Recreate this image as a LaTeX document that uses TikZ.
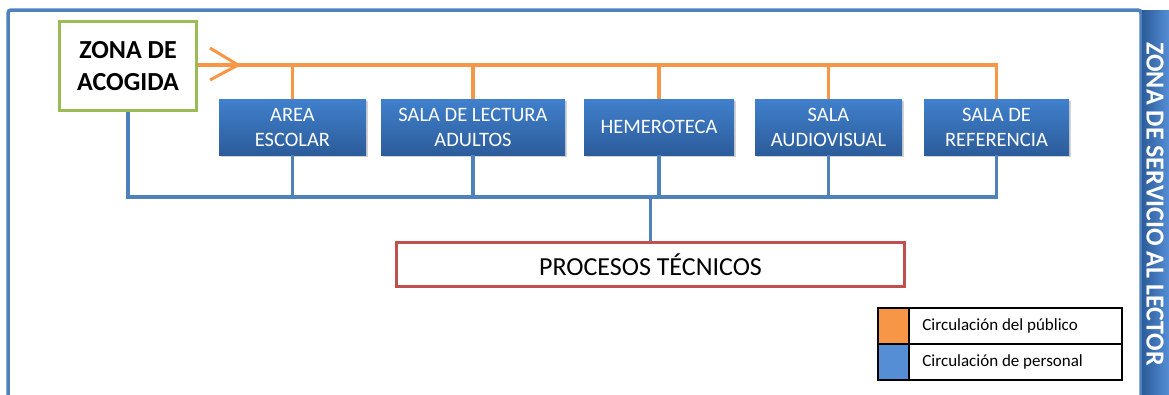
\documentclass[tikz,border=0pt]{standalone}
\usepackage{fontspec}
\setmainfont{Carlito}
\usetikzlibrary{shadows}
\definecolor{orng}{HTML}{F79646}
\definecolor{lblue}{HTML}{4F81BD}
\definecolor{gbox}{HTML}{9BBB59}
\definecolor{rbox}{HTML}{C0504D}
\definecolor{btop}{HTML}{4080CD}
\definecolor{bbot}{HTML}{2C5C9A}
\definecolor{lgblue}{HTML}{558ED5}
\tikzset{
  sala/.style={rectangle, minimum height=56, top color=btop, bottom color=bbot, draw=none,
    text=white, align=center, inner sep=1pt, font=\fontsize{20.5}{25}\selectfont,
    drop shadow={shadow xshift=1.5pt, shadow yshift=-2pt, opacity=0.35}},
  acogbox/.style={rectangle, draw=gbox, line width=3pt, fill=white, minimum width=137, minimum height=89,
    align=center, inner sep=1pt, font=\bfseries\fontsize{26}{32}\selectfont},
  procbox/.style={rectangle, draw=rbox, line width=3pt, fill=white, minimum width=508, minimum height=44,
    inner sep=1pt, font=\fontsize{26}{30}\selectfont},
  pub/.style={draw=orng, line width=3.5pt},
  staff/.style={draw=lblue, line width=3.5pt},
  frameline/.style={draw=lblue, line width=3.5pt, rounded corners=3pt},
  swatch/.style={rectangle, draw=black, line width=1.6pt, minimum width=31, minimum height=36},
  legcell/.style={rectangle, draw=black, line width=1.6pt, minimum width=213, minimum height=36},
  legtext/.style={anchor=west, inner sep=0pt, font=\fontsize{17}{20}\selectfont},
}
\begin{document}
\begin{tikzpicture}[x=1pt,y=-1pt]
\useasboundingbox (0,0) rectangle (1169,394);
% frame
\coordinate (fbl) at (8,396);
\coordinate (ftl) at (8,10);
\coordinate (ftr) at (1141,10);
\coordinate (fbr) at (1141,396);
\draw[frameline] (fbl) -- (ftl) -- (ftr) -- (fbr);
% right panel
\shade[left color=bbot, right color=lgblue] (1142,10) rectangle (1169,396);
\node[rotate=-90, text=white, font=\bfseries\fontsize{26}{30}\selectfont] (zsl) at (1155,204) {ZONA DE SERVICIO AL LECTOR};
% nodes
\node[acogbox] (acog) at (128,66) {ZONA DE\\ACOGIDA};
\node[sala, minimum width=147] (area) at (292.5,127) {AREA\\ESCOLAR};
\node[sala, minimum width=184] (lect) at (473,127) {SALA DE LECTURA\\ADULTOS};
\node[sala, minimum width=150] (hem) at (659,127) {HEMEROTECA};
\node[sala, minimum width=147] (aud) at (828.5,127) {SALA\\AUDIOVISUAL};
\node[sala, minimum width=145] (ref) at (996.5,127) {SALA DE\\REFERENCIA};
\node[procbox] (proc) at (650.5,264.5) {PROCESOS TÉCNICOS};
% public circulation
\coordinate (pubrow) at (0,65);
\draw[pub] (acog.east |- pubrow) -| (ref.north);
\foreach \n in {area,lect,hem,aud}{
  \draw[pub] (\n.north) -- (\n.north |- pubrow);
}
\coordinate (chev) at (238,65);
\draw[pub, line width=3pt, line join=miter] ([shift={(-28,-17)}]chev) -- (chev) -- ([shift={(-28,15)}]chev);
% staff circulation
\coordinate (bus) at (0,197);
\draw[staff, line join=miter] (acog.south) |- (ref.south |- bus) -- (ref.south);
\foreach \n in {area,lect,hem,aud}{
  \draw[staff] (\n.south) -- (\n.south |- bus);
}
\draw[staff] (proc.north) -- (proc.north |- bus);
% legend
\node[swatch, fill=orng] (sw1) at (893.5,326) {};
\node[swatch, fill=lgblue] (sw2) at (893.5,362) {};
\node[legcell] (lc1) at (1015.5,326) {};
\node[legcell] (lc2) at (1015.5,362) {};
\node[legtext] (lt1) at ([xshift=14pt]lc1.west) {Circulación del público};
\node[legtext] (lt2) at ([xshift=14pt]lc2.west) {Circulación de personal};
\end{tikzpicture}
\end{document}
